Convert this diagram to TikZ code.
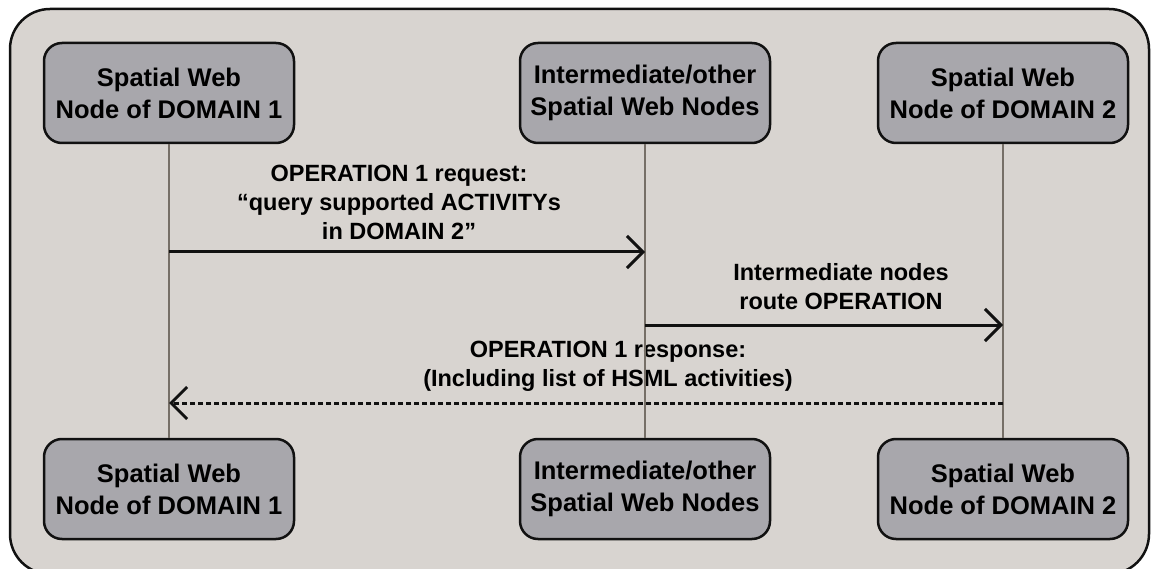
\documentclass[tikz,border=0pt]{standalone}
\usepackage{fontspec}
\setmainfont{Liberation Sans}
\usetikzlibrary{arrows.meta}
\definecolor{panelfill}{HTML}{D8D4D0}
\definecolor{boxfill}{HTML}{A8A7AC}
\definecolor{lifeclr}{HTML}{766F67}
\definecolor{inkclr}{HTML}{111111}
\tikzset{
  actor/.style={draw=inkclr, line width=2.5pt, fill=boxfill, rounded corners=18pt,
    minimum width=250pt, minimum height=100pt, inner sep=0pt, align=center,
    font=\bfseries\fontsize{25.5}{32}\selectfont},
  msglabel/.style={align=center, inner sep=0pt, font=\bfseries\fontsize{23.5}{29}\selectfont},
  lifeline/.style={draw=lifeclr, line width=2.5pt},
  msg/.style={draw=inkclr, line width=3pt, -{Straight Barb[length=16pt,width=32pt,line width=3pt]}},
  reply/.style={msg, dash pattern=on 5pt off 3pt}
}
\begin{document}
\begin{tikzpicture}[x=1pt, y=-1pt]
  \useasboundingbox (0,0) rectangle (1151,569);
  \clip (0,0) rectangle (1151,569);
  % outer panel
  \draw[draw=inkclr, line width=2.5pt, fill=panelfill, rounded corners=40pt]
    (10,9) rectangle (1149,574);

  % participants, top and bottom
  \node[actor] (d1t) at (169,93) {Spatial Web\\Node of DOMAIN 1};
  \node[actor] (imt) at (645,93) {Intermediate/other\\Spatial Web Nodes};
  \node[actor] (d2t) at (1003,93) {Spatial Web\\Node of DOMAIN 2};
  \node[actor] (d1b) at (169,489) {Spatial Web\\Node of DOMAIN 1};
  \node[actor] (imb) at (645,489) {Intermediate/other\\Spatial Web Nodes};
  \node[actor] (d2b) at (1003,489) {Spatial Web\\Node of DOMAIN 2};

  % message labels
  \node[msglabel] (l1) at (399,202) {OPERATION 1 request:\\``query supported ACTIVITYs\\in DOMAIN 2''};
  \node[msglabel] (l2) at (841,287) {Intermediate nodes\\route OPERATION};
  \node[msglabel] (l3) at (608,366) {OPERATION 1 response:\\(Including list of HSML activities)};

  % lifelines
  \draw[lifeline] (d1t.south) -- (d1b.north);
  \draw[lifeline] (imt.south) -- (imb.north);
  \draw[lifeline] (d2t.south) -- (d2b.north);

  % anchor points of messages on the lifelines
  \coordinate (m1s) at (d1t.south |- 0,252);
  \coordinate (m1e) at (imt.south |- 0,252);
  \coordinate (m2s) at (imt.south |- 0,325);
  \coordinate (m2e) at (d2t.south |- 0,325);
  \coordinate (m3s) at (d2t.south |- 0,403);
  \coordinate (m3e) at (d1t.south |- 0,403);

  % messages
  \draw[msg] (m1s) -- (m1e);
  \draw[msg] (m2s) -- (m2e);
  \draw[reply] (m3s) -- (m3e);
\end{tikzpicture}
\end{document}
